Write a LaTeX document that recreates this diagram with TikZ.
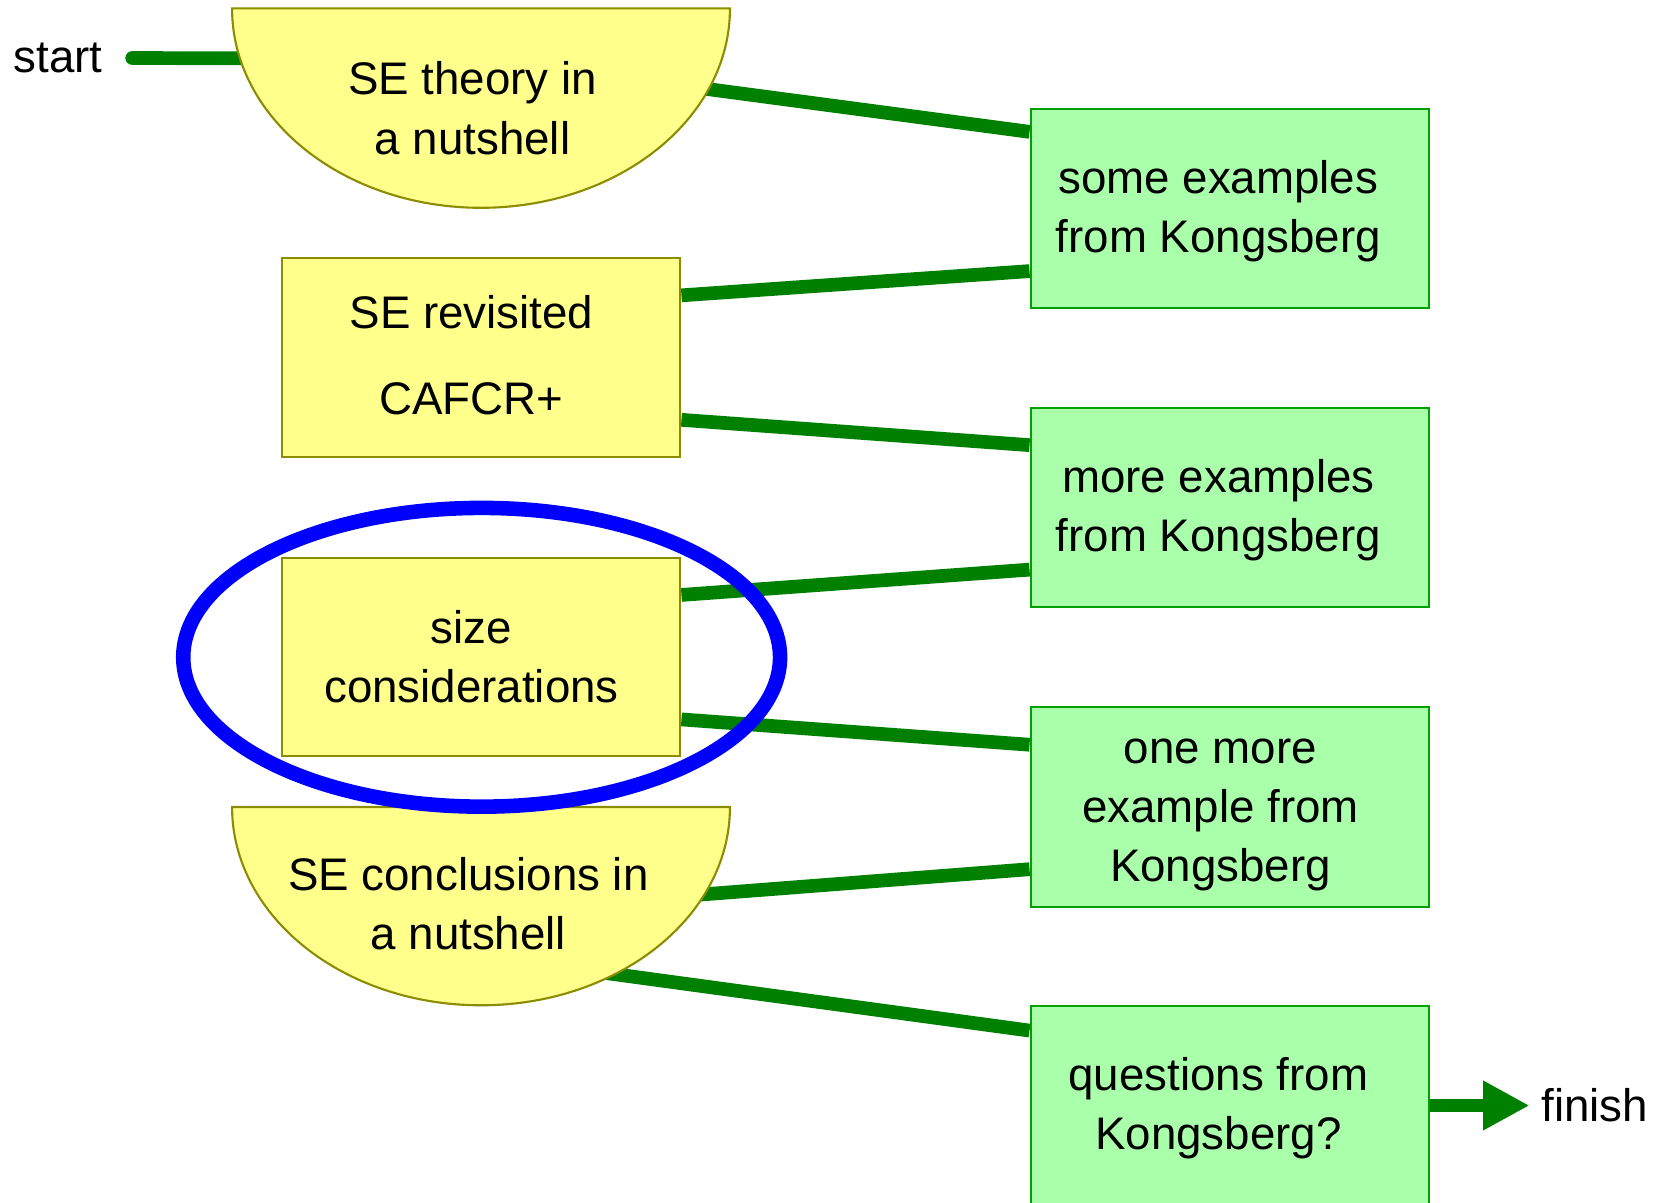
\documentclass[tikz,border=0pt]{standalone}
\usepackage{fontspec}
\setmainfont{Liberation Sans}
\usetikzlibrary{arrows.meta,calc}
\definecolor{yfill}{HTML}{FFFF8C}
\definecolor{yline}{HTML}{8C8C00}
\definecolor{gfill}{HTML}{AAFFAA}
\definecolor{gline}{HTML}{00A000}
\definecolor{conn}{HTML}{008000}
\definecolor{ring}{HTML}{0000FF}
\newcommand\ls{\rule[-14.5pt]{0pt}{56pt}}
\begin{document}
\begin{tikzpicture}[x=1pt,y=-1pt,
  every node/.style={inner sep=0pt},
  txt/.style={font=\fontsize{43.3}{56}\selectfont, align=center},
  ybox/.style={draw=yline, fill=yfill, line width=2pt, minimum width=378pt, minimum height=188pt},
  gbox/.style={draw=gline, fill=gfill, line width=2pt, minimum width=378pt, minimum height=189pt},
  halfmoon/.style={draw=yline, fill=yfill, line width=2pt},
  link/.style={draw=conn, line width=13pt},
]
\useasboundingbox (0,0) rectangle (1568,1140);

% inner points of the two half-moons (hidden ends of connectors)
\coordinate (m1a) at (330,55.6);
\coordinate (m1b) at (600,75);
\coordinate (m2a) at (600,853);
\coordinate (m2b) at (520,915);

% boxes (shapes only)
\node[ybox] (rev) at (456,339) {};
\node[ybox] (size) at (456,623) {};
\node[gbox] (b1) at (1166,197.5) {};
\node[gbox] (b2) at (1166,481) {};
\node[gbox] (b3) at (1166,765) {};
\node[gbox] (b4) at (1166,1048) {};

\node[txt] (start) at (55,55) {start};
\node[txt, anchor=west] (finish) at (1461,1048) {finish};

% connectors
\draw[link, line cap=round] ([xshift=28pt]start.east) -- (m1a);
\draw[link] (m1b) -- ($(b1.west)+(0,-72.5)$);
\draw[link] ($(b1.west)+(0,59.5)$) -- ($(rev.east)+(0,-59)$);
\draw[link] ($(rev.east)+(0,59)$) -- ($(b2.west)+(0,-59)$);
\draw[link] ($(b2.west)+(0,59)$) -- ($(size.east)+(0,-59)$);
\draw[link] ($(size.east)+(0,59)$) -- ($(b3.west)+(0,-59)$);
\draw[link] ($(b3.west)+(0,59)$) -- (m2a);
\draw[link] (m2b) -- ($(b4.west)+(0,-71)$);
\draw[link, -{Triangle[length=44pt,width=44pt]}] (b4.east) -- ([xshift=-11pt]finish.west);

% redraw boxes above connector ends
\node[ybox] at (rev) {};
\node[ybox] at (size) {};
\node[gbox] at (b1) {};
\node[gbox] at (b2) {};
\node[gbox] at (b3) {};
\node[gbox] at (b4) {};

% half-moons
\draw[halfmoon] (220,8) -- (692,8) arc[start angle=0, end angle=180, x radius=236, y radius=189] -- cycle;
\draw[halfmoon] (220,765) -- (692,765) arc[start angle=0, end angle=180, x radius=236, y radius=188] -- cycle;

% texts
\node[txt] (t1) at (448,104.5) {\ls SE theory in\\\ls a nutshell};
\node[txt] (t2) at (447,338.5) {\ls SE revisited\\[25pt]\ls CAFCR+};
\node[txt] (t3) at (447,624.5) {\ls size\\\ls considerations};
\node[txt] (t4) at (444,858.5) {\ls SE conclusions in\\\ls a nutshell};
\node[txt] (t5) at (1155,197.5) {\ls some examples\\\ls from Kongsberg};
\node[txt] (t6) at (1155,481) {\ls more examples\\\ls from Kongsberg};
\node[txt] (t7) at (1157,766) {\ls one more\\\ls example from\\\ls Kongsberg};
\node[txt] (t8) at (1155,1048) {\ls questions from\\\ls Kongsberg?};

% highlight ring
\draw[ring, line width=13.8pt] (456.6,623.1) ellipse [x radius=282.9, y radius=141.6];
\end{tikzpicture}
\end{document}
